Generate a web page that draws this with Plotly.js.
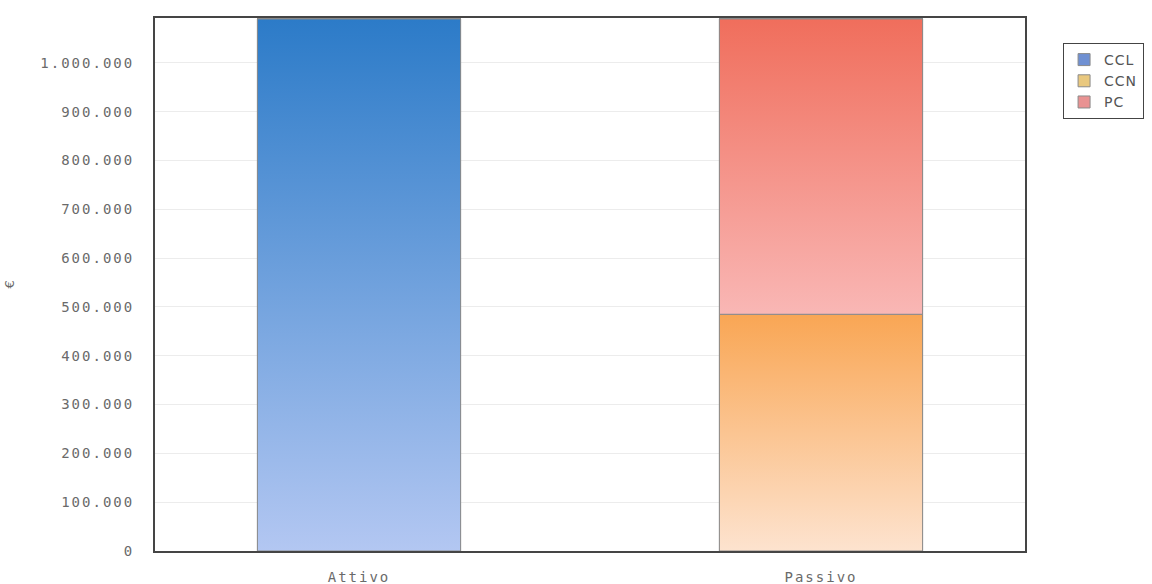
<!DOCTYPE html>
<html>
<head>
<meta charset="utf-8">
<script src="https://cdn.plot.ly/plotly-3.0.1.min.js"></script>
<style>
  html, body { margin: 0; padding: 0; background: #fff; }
  #chart { width: 1152px; height: 584px; }
  .xtick text, .ytick text { letter-spacing: 2px; }
  .legendtext { letter-spacing: 1px; }
</style>
</head>
<body>
<div id="chart"></div>
<script>
// Balance sheet split: assets vs. liabilities (euro)
const categories = ['Attivo', 'Passivo'];
const seriesNames = ['CCL', 'CCN', 'PC'];
const cclValues = [1090000, 0];
const ccnValues = [0, 485000];
const pcValues = [0, 605000];
const yTickValues = [0, 100000, 200000, 300000, 400000, 500000, 600000, 700000, 800000, 900000, 1000000];
const yTickLabels = ['0', '100.000', '200.000', '300.000', '400.000', '500.000', '600.000', '700.000', '800.000', '900.000', '1.000.000'];

const seriesValues = [cclValues, ccnValues, pcValues];
const legendColors = ['#6f90d2', '#e9c87e', '#e99292'];
// vertical gradients: [bottom colour, top colour]
const gradients = [
  ['#b3c7f2', '#2c7bc8'],
  ['#fde3cf', '#f9a654'],
  ['#f9b7b5', '#f06e5c']
];
const barWidth = 0.44;
const xPos = categories.map((c, i) => i);

const traces = [];
// Stacked bars (carry the data and the legend entries)
seriesValues.forEach((vals, s) => {
  traces.push({
    type: 'bar',
    name: seriesNames[s],
    legendgroup: seriesNames[s],
    x: xPos,
    y: vals,
    width: barWidth,
    marker: { color: legendColors[s], line: { color: '#8a8a8a', width: 1 } },
    hoverinfo: 'skip'
  });
});

// Gradient faces for each stacked segment, built from the same values
xPos.forEach((xi, i) => {
  let base = 0;
  seriesValues.forEach((vals, s) => {
    const v = vals[i];
    if (v > 0) {
      const x0 = xi - barWidth / 2, x1 = xi + barWidth / 2;
      traces.push({
        type: 'scatter',
        mode: 'lines',
        x: [x0, x1, x1, x0, x0],
        y: [base, base, base + v, base + v, base],
        fill: 'toself',
        fillgradient: {
          type: 'vertical',
          start: base,
          stop: base + v,
          colorscale: [[0, gradients[s][0]], [1, gradients[s][1]]]
        },
        line: { color: '#8a8a8a', width: 1 },
        showlegend: false,
        hoverinfo: 'skip'
      });
    }
    base += v;
  });
});

const tickFont = { family: 'DejaVu Sans Mono, monospace', size: 14, color: '#6a6a6a' };

const layout = {
  width: 1152,
  height: 584,
  margin: { l: 155, r: 127, t: 18, b: 33 },
  paper_bgcolor: '#ffffff',
  plot_bgcolor: '#ffffff',
  barmode: 'stack',
  showlegend: true,
  xaxis: {
    type: 'linear',
    range: [-0.4416, 1.4416],
    tickvals: xPos,
    ticktext: categories,
    tickfont: tickFont,
    ticks: '',
    ticklabelstandoff: 12,
    showgrid: false,
    zeroline: false,
    showline: true,
    mirror: true,
    linecolor: '#454545',
    linewidth: 2,
    fixedrange: true
  },
  yaxis: {
    range: [0, 1092000],
    tickvals: yTickValues,
    ticktext: yTickLabels,
    tickfont: tickFont,
    ticks: '',
    ticklabelstandoff: 16,
    showgrid: true,
    gridcolor: '#ececec',
    gridwidth: 1,
    zeroline: false,
    showline: true,
    mirror: true,
    linecolor: '#454545',
    linewidth: 2,
    fixedrange: true
  },
  legend: {
    xref: 'container',
    yref: 'container',
    x: 0.9228,
    xanchor: 'left',
    y: 0.9264,
    yanchor: 'top',
    bgcolor: '#ffffff',
    bordercolor: '#444444',
    borderwidth: 1,
    tracegroupgap: 7,
    traceorder: 'normal',
    font: { family: 'DejaVu Sans, sans-serif', size: 14, color: '#555555' }
  },
  annotations: [{
    text: '€',
    xref: 'paper', yref: 'paper',
    x: -0.1667, y: 0.5,
    xanchor: 'center', yanchor: 'middle',
    textangle: -90,
    showarrow: false,
    font: { family: 'DejaVu Sans, sans-serif', size: 13, color: '#666666' }
  }]
};

Plotly.newPlot('chart', traces, layout, { displayModeBar: false, staticPlot: true });
</script>
</body>
</html>
